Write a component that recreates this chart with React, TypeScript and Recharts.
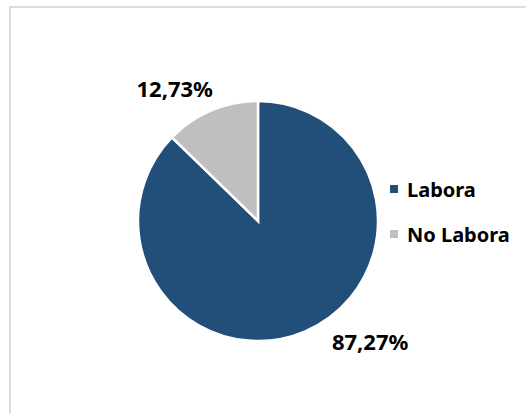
import React from "react";
import { PieChart, Pie, Cell } from "recharts";

// Survey result: share of respondents who work vs. who don't
const categories = ["Labora", "No Labora"];
const shares = [87.27, 12.73];

const colors = ["#224F7A", "#BFBFBF"];

// Excel "best fit" label spots, given as angle (deg) and distance / outerRadius
const labelSpots = [
    { angle: -47, dist: 1.37 },
    { angle: 122, dist: 1.31 },
];

const data = categories.map((name, i) => ({ name, value: shares[i] }));

const FONT = "'Noto Sans', 'Open Sans', sans-serif";

const RADIAN = Math.PI / 180;

interface LabelProps {
    cx?: number;
    cy?: number;
    outerRadius?: number;
    index?: number;
    value?: number;
}

const PctLabel = ({ cx = 0, cy = 0, outerRadius = 0, index = 0, value = 0 }: LabelProps) => {
    const spot = labelSpots[index];
    const r = outerRadius * spot.dist;
    const x = cx + r * Math.cos(spot.angle * RADIAN);
    const y = cy - r * Math.sin(spot.angle * RADIAN);
    return (
        <text
            x={x}
            y={y}
            textAnchor="middle"
            dominantBaseline="central"
            fontFamily={FONT}
            fontWeight="bold"
            fontSize={22}
            fill="#000"
        >
            {`${value.toFixed(2).replace(".", ",")}%`}
        </text>
    );
};

export default function App() {
    return (
        <div style={{ position: "absolute", left: 0, top: 0, width: 526, height: 414, background: "#fff", overflow: "hidden" }}>
            {/* chart area frame, cut off at right and bottom like the screenshot */}
            <div
                style={{
                    position: "absolute",
                    left: 9,
                    top: 6,
                    width: 600,
                    height: 500,
                    border: "2px solid #DCDCDC",
                }}
            />
            <div style={{ position: "absolute", left: 0, top: 0 }}>
                <PieChart width={526} height={414} margin={{ top: 0, right: 0, bottom: 0, left: 0 }}>
                    <Pie
                        data={data}
                        dataKey="value"
                        nameKey="name"
                        cx={258}
                        cy={221}
                        outerRadius={120}
                        startAngle={90}
                        endAngle={-270}
                        stroke="#fff"
                        strokeWidth={2.5}
                        label={PctLabel}
                        labelLine={false}
                        isAnimationActive={false}
                    >
                        {data.map((d, i) => (
                            <Cell key={d.name} fill={colors[i]} />
                        ))}
                    </Pie>
                </PieChart>
            </div>
            {/* legend */}
            <div style={{ position: "absolute", left: 390, top: 174, fontFamily: FONT, fontWeight: "bold", fontSize: 20 }}>
                {categories.map((c, i) => (
                    <div key={c} style={{ display: "flex", alignItems: "center", height: 30, marginBottom: 15 }}>
                        <span style={{ width: 8, height: 8, background: colors[i], marginRight: 9, display: "inline-block" }} />
                        <span>{c}</span>
                    </div>
                ))}
            </div>
        </div>
    );
}
